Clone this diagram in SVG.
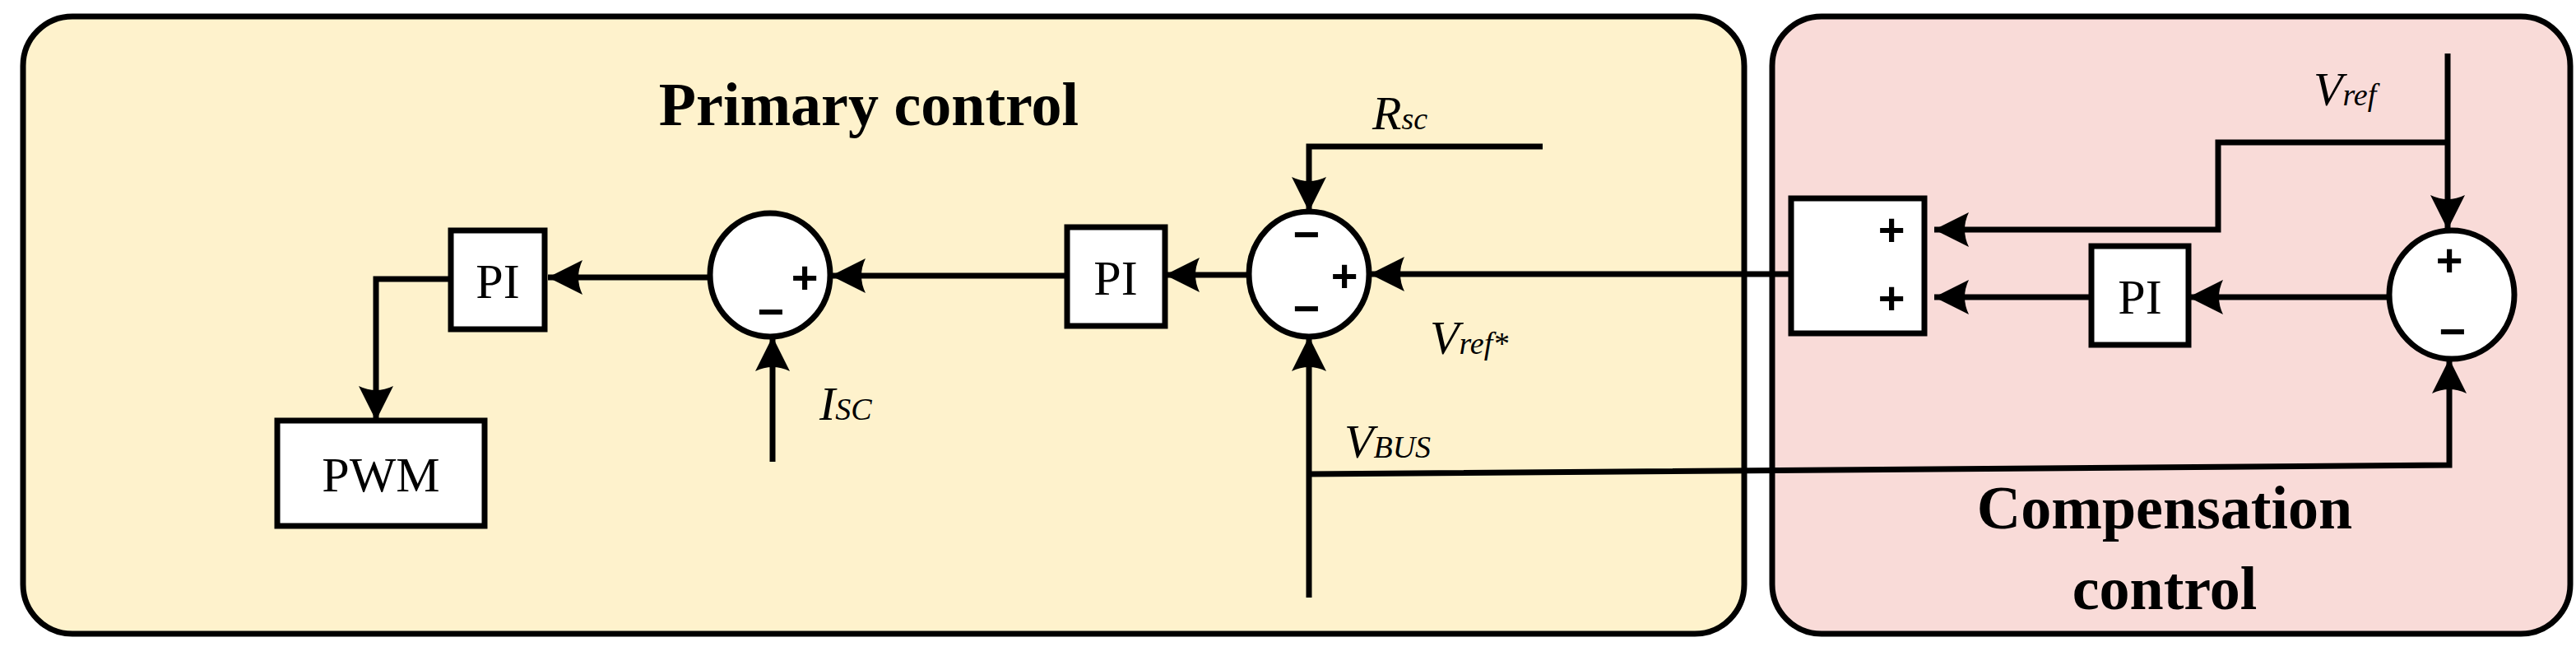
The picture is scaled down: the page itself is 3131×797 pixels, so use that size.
<svg xmlns="http://www.w3.org/2000/svg" width="3131" height="797" viewBox="0 0 3131 797">
<defs>
<marker id="ah" markerUnits="userSpaceOnUse" markerWidth="50" markerHeight="50" viewBox="0 0 50 50" refX="46" refY="25" orient="auto">
<path d="M46,25 L4,4 Q14,25 4,46 Z" fill="#000"/>
</marker>
</defs>
<style>
.ln{fill:none;stroke:#000;stroke-width:7}
.bx{fill:#fff;stroke:#000;stroke-width:7}
.t{font-family:"Liberation Serif",serif;fill:#000}
.i{font-family:"Liberation Serif",serif;font-style:italic;fill:#000}
.s{font-family:"Liberation Sans",sans-serif;font-weight:bold;fill:#000;font-size:56px;text-anchor:middle}
</style>
<g id="primary-panel">
<rect x="28" y="20" width="2092" height="750" rx="60" fill="#fef2cc" stroke="#000" stroke-width="7"/>
<text class="t" x="1056" y="152" font-size="74" font-weight="bold" text-anchor="middle">Primary control</text>
</g>
<g id="compensation-panel">
<rect x="2154" y="20" width="970" height="750" rx="60" fill="#f9dbd8" stroke="#000" stroke-width="7"/>
<text class="t" x="2631" y="642" font-size="74" font-weight="bold" text-anchor="middle">Compensation</text>
<text class="t" x="2631" y="740" font-size="74" font-weight="bold" text-anchor="middle">control</text>
</g>
<g id="connectors">
<path class="ln" d="M548,339 H457 V511" marker-end="url(#ah)"/>
<path class="ln" d="M862,337 H666" marker-end="url(#ah)"/>
<path class="ln" d="M1297,335 H1010" marker-end="url(#ah)"/>
<path class="ln" d="M1518,334 H1416" marker-end="url(#ah)"/>
<path class="ln" d="M1875,178 H1591 V257" marker-end="url(#ah)"/>
<path class="ln" d="M2177,333 H1665" marker-end="url(#ah)"/>
<path class="ln" d="M939,561 V409" marker-end="url(#ah)"/>
<path class="ln" d="M1591,726 V409" marker-end="url(#ah)"/>
<path class="ln" d="M1591,576 L2977,565 V436" marker-end="url(#ah)"/>
<path class="ln" d="M2975,65 V279" marker-end="url(#ah)"/>
<path class="ln" d="M2975,173 H2696 V279 H2351" marker-end="url(#ah)"/>
<path class="ln" d="M2542,361 H2351" marker-end="url(#ah)"/>
<path class="ln" d="M2904,361 H2660" marker-end="url(#ah)"/>
</g>
<g id="pi1"><rect class="bx" x="548" y="280" width="114" height="120"/><text class="t" x="605" y="362" font-size="60" text-anchor="middle">PI</text></g>
<g id="pwm"><rect class="bx" x="337" y="511" width="252" height="128"/><text class="t" x="463" y="597" font-size="60" text-anchor="middle">PWM</text></g>
<g id="sum1"><ellipse class="bx" cx="936" cy="334" rx="73" ry="75"/><text class="s" x="978" y="356">+</text><text class="s" x="937" y="398">−</text></g>
<g id="pi2"><rect class="bx" x="1297" y="276" width="119" height="120"/><text class="t" x="1356" y="358" font-size="60" text-anchor="middle">PI</text></g>
<g id="sum2"><ellipse class="bx" cx="1591" cy="333" rx="73" ry="76"/><text class="s" x="1588" y="304">−</text><text class="s" x="1634" y="354">+</text><text class="s" x="1588" y="394">−</text></g>
<g id="adder"><rect class="bx" x="2177" y="241" width="162" height="164"/><text class="s" x="2299" y="298">+</text><text class="s" x="2299" y="381">+</text></g>
<g id="pi3"><rect class="bx" x="2542" y="299" width="118" height="120"/><text class="t" x="2601" y="381" font-size="60" text-anchor="middle">PI</text></g>
<g id="sum3"><ellipse class="bx" cx="2980" cy="358" rx="76" ry="78"/><text class="s" x="2977" y="335">+</text><text class="s" x="2981" y="422">−</text></g>
<g id="labels">
<text class="i" x="1668" y="157" font-size="58">R<tspan font-size="38">sc</tspan></text>
<text class="i" x="1738" y="430" font-size="58">V<tspan font-size="38">ref*</tspan></text>
<text class="i" x="996" y="510" font-size="58">I<tspan font-size="38">SC</tspan></text>
<text class="i" x="1634" y="556" font-size="58">V<tspan font-size="38">BUS</tspan></text>
<text class="i" x="2812" y="128" font-size="58">V<tspan font-size="38">ref</tspan></text>
</g>
</svg>
